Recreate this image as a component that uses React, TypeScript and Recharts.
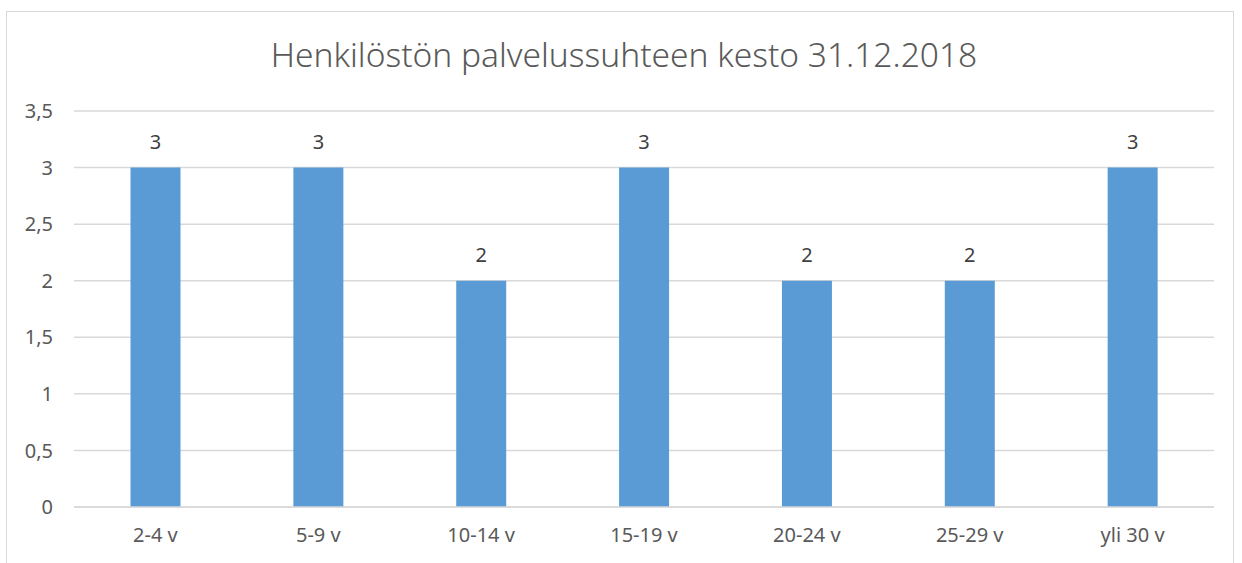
import { BarChart, Bar, XAxis, YAxis, CartesianGrid, LabelList } from 'recharts'

const categories = ['2-4 v', '5-9 v', '10-14 v', '15-19 v', '20-24 v', '25-29 v', 'yli 30 v']
const values = [3, 3, 2, 3, 2, 2, 3]
const yTicks = [0, 0.5, 1, 1.5, 2, 2.5, 3, 3.5]

const data = categories.map((c, i) => ({ name: c, value: values[i] }))

const FONT = '"Noto Sans", sans-serif'
const TEXT = '#595959'

export default function App() {
  return (
    <div style={{ position: 'absolute', left: 0, top: 0, width: 1242, height: 563, background: '#fff', overflow: 'hidden', fontFamily: FONT }}>
      {/* chart frame */}
      <div style={{ position: 'absolute', left: 6, top: 11, width: 1226, height: 600, border: '1px solid #d9d9d9' }} />
      <div style={{ position: 'absolute', left: 0, top: 31, width: 1248, textAlign: 'center', fontSize: 33.5, lineHeight: 'normal', color: TEXT, fontWeight: 300 }}>
        Henkilöstön palvelussuhteen kesto 31.12.2018
      </div>
      <div style={{ position: 'absolute', left: 0, top: 0 }}>
        <BarChart width={1242} height={563} data={data} margin={{ top: 111, right: 28, left: 14, bottom: 26 }} barCategoryGap="34.7%">
          <CartesianGrid vertical={false} stroke="#d9d9d9" strokeWidth={1.5} />
          <XAxis dataKey="name" axisLine={{ stroke: '#d9d9d9', strokeWidth: 1.5 }} tickLine={false} tickSize={0} tickMargin={21} height={30} tick={{ fontSize: 20, fill: TEXT, fontFamily: FONT }} />
          <YAxis domain={[0, 3.5]} ticks={yTicks} width={60} axisLine={false} tickLine={false} tickSize={0} tickMargin={21} tickFormatter={(v: number) => String(v).replace('.', ',')} tick={{ fontSize: 20, fill: TEXT, fontFamily: FONT }} />
          <Bar dataKey="value" fill="#5b9bd5" isAnimationActive={false}>
            <LabelList dataKey="value" position="top" offset={19} style={{ fontSize: 20, fill: '#404040', fontFamily: FONT }} />
          </Bar>
        </BarChart>
      </div>
    </div>
  )
}
